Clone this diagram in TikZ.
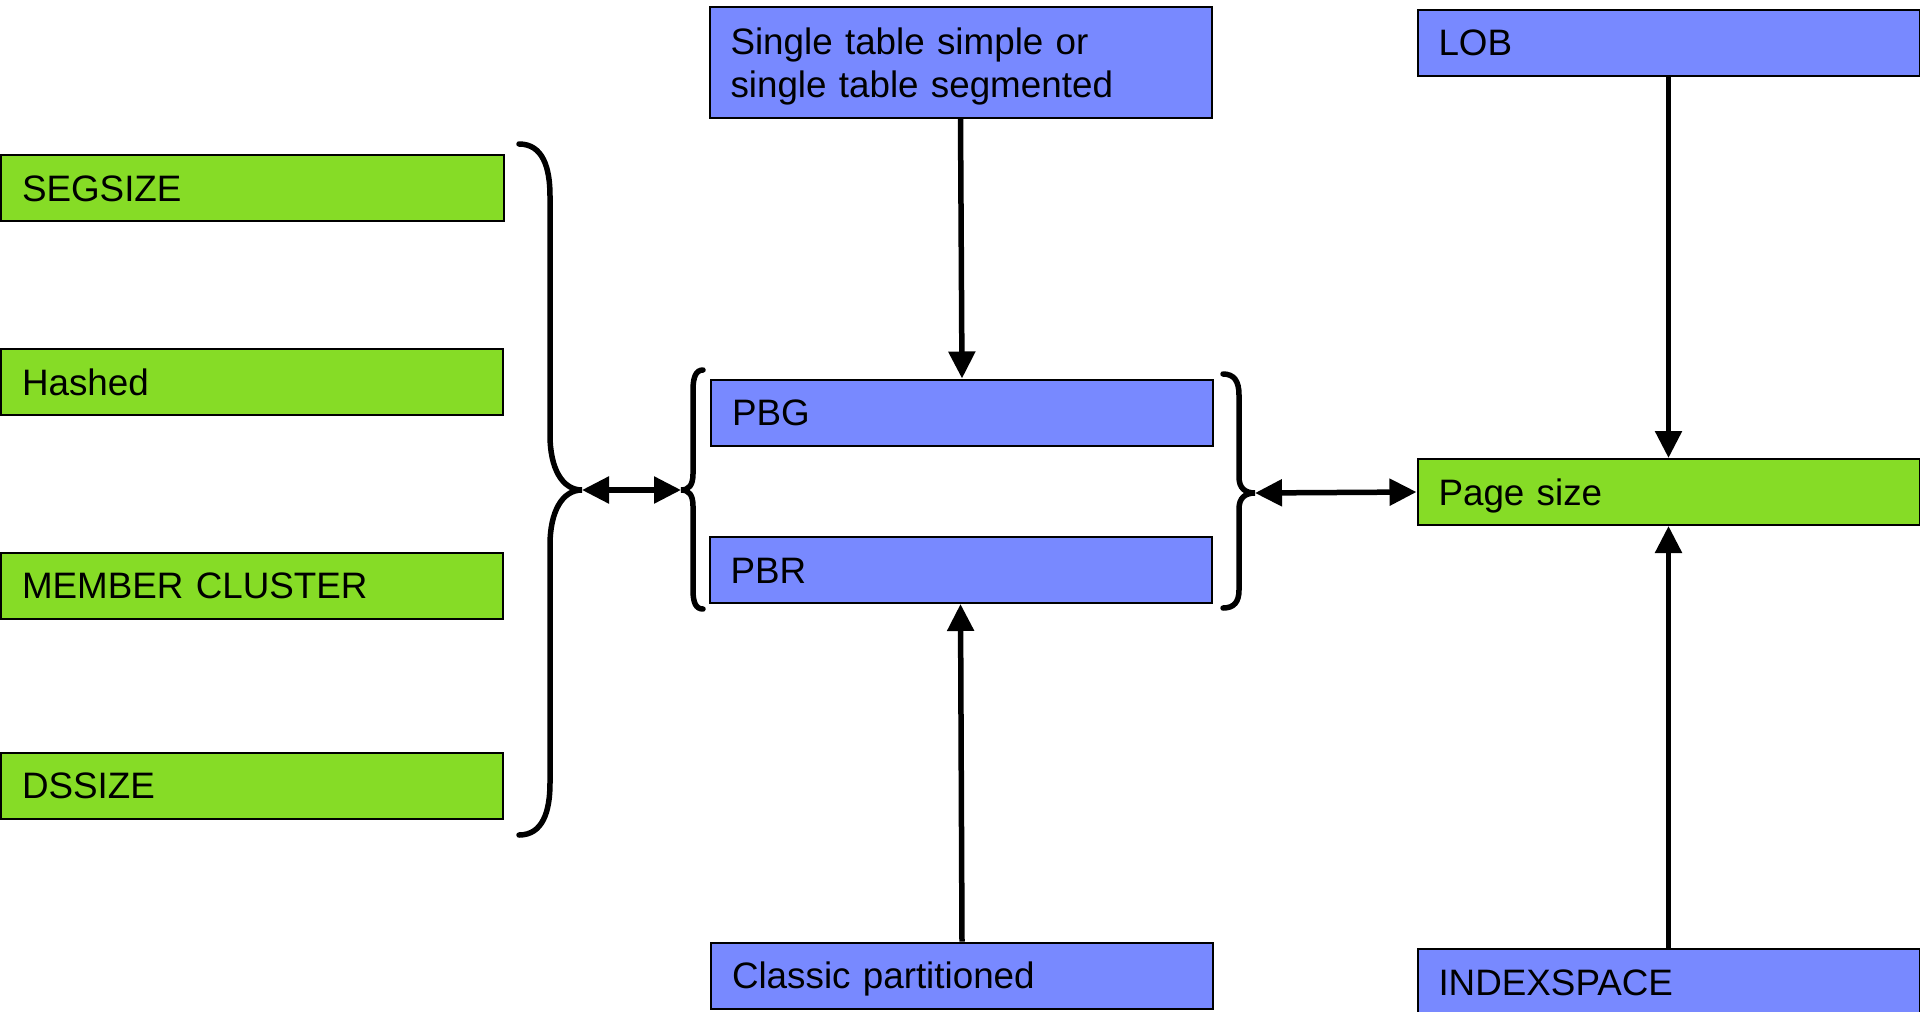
\documentclass[tikz,border=0pt]{standalone}
\usepackage{fontspec}
\setmainfont{Liberation Sans}
\usetikzlibrary{arrows.meta}
\newcommand\boxfont{\fontsize{36.8}{43}\selectfont}
\definecolor{boxblue}{RGB}{120,137,255}
\definecolor{boxgreen}{RGB}{134,220,38}
\tikzset{
  box/.style={draw=black, line width=2pt, inner xsep=21pt, inner ysep=0pt,
    text width=460pt, align=left, minimum height=66pt,
    text height=26pt, text depth=0pt, font=\boxfont, anchor=center},
  bluebox/.style={box, fill=boxblue},
  greenbox/.style={box, fill=boxgreen},
  brace/.style={line width=5.5pt, line cap=round},
  arr/.style={line width=5.5pt, -{Triangle[length=27pt,width=26pt]}},
  darr/.style={line width=5.5pt, {Triangle[length=27pt,width=26pt]}-{Triangle[length=27pt,width=26pt]}}
}
\begin{document}
\begin{tikzpicture}[x=1pt,y=-1pt]
\useasboundingbox (0,0) rectangle (1920,1012);
\fill[white] (0,0) rectangle (1920,1012);

% left column
\node[greenbox, text width=461pt] (seg) at (252.5,188) {SEGSIZE};
\node[greenbox] (hash) at (252,382) {Hashed};
\node[greenbox] (member) at (252,585.5) {MEMBER CLUSTER};
\node[greenbox] (ds) at (252,785.5) {DSSIZE};

% middle column
\node[bluebox, minimum height=111pt, text depth=43pt] (single) at (960.5,62.5)
  {Single table simple or\\single table segmented};
\node[bluebox] (pbg) at (962,412.5) {PBG};
\node[bluebox] (pbr) at (960.5,570) {PBR};
\node[bluebox] (classic) at (962,975.5) {Classic partitioned};

% right column
\node[bluebox] (lob) at (1668.5,42.5) {LOB};
\node[greenbox] (page) at (1668.5,492) {Page size};
\node[bluebox] (index) at (1668.5,982) {INDEXSPACE};

% braces
\coordinate (ltip) at (582,490);
\coordinate (mtip) at (681,490);
\coordinate (rtip) at (1255,493);

\draw[brace] (519,144) .. controls (543,144) and (550,168) .. (550,196)
  -- (550,435) .. controls (550,468) and (562,490) .. (ltip)
  .. controls (562,490) and (550,512) .. (550,545)
  -- (550,783) .. controls (550,811) and (543,835) .. (519,835);

\draw[brace] (703,370) .. controls (696,370) and (693,377) .. (693,390)
  -- (693,474) .. controls (693,485) and (689,490) .. (mtip)
  .. controls (689,490) and (693,495) .. (693,506)
  -- (693,590) .. controls (693,603) and (696,609) .. (703,609);

\draw[brace] (1223,374) .. controls (1234,374) and (1239,381) .. (1239,395)
  -- (1239,477) .. controls (1239,488) and (1245,493) .. (rtip)
  .. controls (1245,493) and (1239,498) .. (1239,509)
  -- (1239,590) .. controls (1239,602) and (1234,608) .. (1223,608);

% connectors
\draw[darr] (ltip) -- (mtip);
\draw[darr] (rtip) -- (page.west);
\draw[arr] (single.south) -- (pbg.north);
\draw[arr] (classic.north) -- (pbr.south);
\draw[arr] (lob.south) -- (page.north);
\draw[arr] (index.north) -- (page.south);
\end{tikzpicture}
\end{document}
